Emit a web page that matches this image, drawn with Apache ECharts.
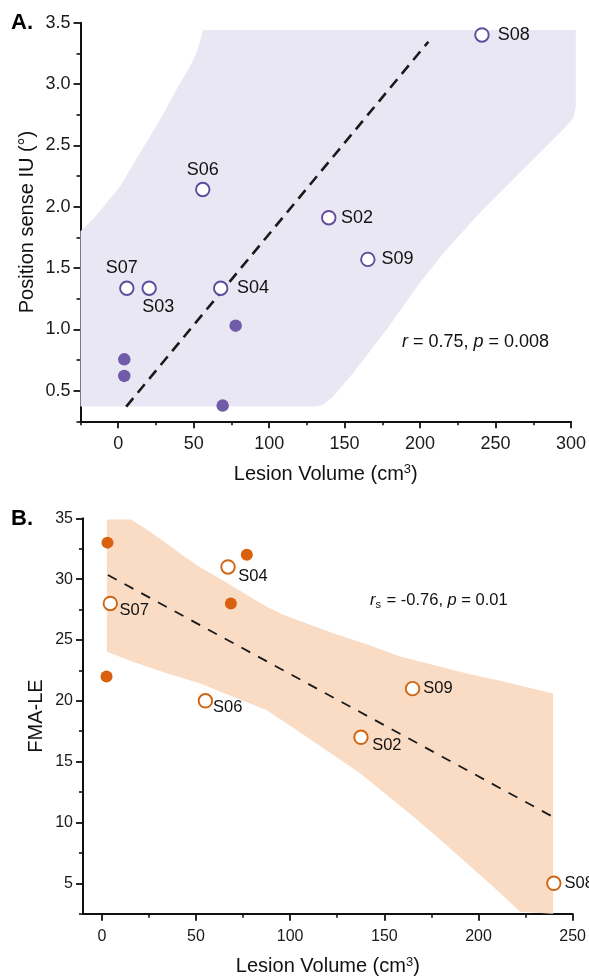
<!DOCTYPE html>
<html><head><meta charset="utf-8">
<script src="https://cdn.jsdelivr.net/npm/echarts/dist/echarts.min.js"></script>
<style>html,body{margin:0;padding:0;background:#fff}#c{width:589px;height:980px}</style>
</head><body><div id="c"></div>
<script>
// ---------- Panel A ----------
const aOpenNames = ['S08', 'S06', 'S02', 'S09', 'S07', 'S03', 'S04'];
const aOpenX = [241, 56, 139.5, 165.4, 5.7, 20.5, 67.9];
const aOpenY = [3.40, 2.14, 1.91, 1.57, 1.335, 1.335, 1.335];
const aFilledX = [77.8, 4, 4, 69.2];
const aFilledY = [1.03, 0.755, 0.62, 0.378];
const aFitX = [5.3, 205.5];
const aFitY = [0.37, 3.345];
const aBandX = [-25, -16.5, 1.1, 14.3, 27.6, 39.7, 47, 51.7, 54.5, 56.2, 303.2, 303.2, 301.5, 296.6, 265.7, 239.3, 217.2, 199.6, 177.6, 155.5, 142.3, 135.7, 130, -25];
const aBandY = [1.80, 1.90, 2.163, 2.435, 2.707, 2.98, 3.13, 3.25, 3.36, 3.44, 3.44, 2.815, 2.72, 2.652, 2.272, 1.946, 1.647, 1.376, 0.995, 0.642, 0.451, 0.384, 0.37, 0.37];
const aXTicks = [0, 50, 100, 150, 200, 250, 300];
const aXMinor = [-25, 25, 75, 125, 175, 225, 275];
const aYTicks = [0.5, 1.0, 1.5, 2.0, 2.5, 3.0, 3.5];
const aYMinor = [0.25, 0.75, 1.25, 1.75, 2.25, 2.75, 3.25];
const aStat = '{i|r} = 0.75, {i|p} = 0.008';

// ---------- Panel B ----------
const bOpenNames = ['S07', 'S04', 'S06', 'S09', 'S02', 'S08'];
const bOpenX = [4.5, 67, 55, 165, 137.6, 240];
const bOpenY = [28, 31, 20, 21, 17, 5];
const bFilledX = [3, 2.5, 77, 68.5];
const bFilledY = [33, 22, 32, 28];
const bFitX = [3.2, 239.9];
const bFitY = [30.34, 10.43];
const bUpperX = [2.7, 15.6, 25, 34.3, 43, 52.0, 61, 69.7, 78.5, 87.4, 96, 105.2, 122.9, 140.6, 158.4, 176.1, 193.8, 211.5, 239.6];
const bUpperY = [34.9, 34.9, 33.95, 32.95, 31.95, 31.0, 30.2, 29.4, 28.55, 27.75, 27.1, 26.55, 25.55, 24.65, 23.65, 22.95, 22.25, 21.65, 20.6];
const bLowerX = [2.7, 16.5, 34.3, 52.0, 69.7, 87.4, 103.4, 120, 137.1, 151, 165.4, 179.6, 193.8, 208, 222.2, 239.6];
const bLowerY = [24.04, 23.2, 22.26, 21.44, 20.34, 19.25, 17.6, 15.85, 14.05, 12.3, 10.48, 8.6, 6.65, 4.7, 2.67, 0.3];
const bXTicks = [0, 50, 100, 150, 200, 250];
const bXMinor = [25, 75, 125, 175, 225];
const bYTicks = [5, 10, 15, 20, 25, 30, 35];
const bYMinor = [2.5, 7.5, 12.5, 17.5, 22.5, 27.5, 32.5];
const bStat = '{i|r}{s|s} = -0.76, {i|p} = 0.01';

// ---------- styles ----------
const FONT = 'Liberation Sans, Arial, sans-serif';
const aLabel = {
  S08: {position: 'right', distance: 8},
  S06: {position: 'top', distance: 3},
  S02: {position: 'right', distance: 4.5},
  S09: {position: 'right', distance: 6},
  S07: {position: 'top', distance: 3.5, offset: [-5, 0]},
  S03: {position: 'bottom', distance: 2.5, offset: [9, 0]},
  S04: {position: 'right', distance: 8.5}
};
const bLabel = {
  S07: {position: 'right', distance: 1.5, offset: [0, 7]},
  S04: {position: 'right', distance: 2.5, offset: [0, 9]},
  S06: {position: 'right', distance: 0, offset: [0, 7]},
  S09: {position: 'right', distance: 3},
  S02: {position: 'right', distance: 3.5, offset: [0, 8]},
  S08: {position: 'right', distance: 3}
};
const nameRich = {sup: {fontSize: 13, color: '#111', fontFamily: FONT, verticalAlign: 'top', lineHeight: 13, padding: [0, 0, 8, 0]}};

function majorAxis(grid, min, max, ticks, fs, name, gap, pos, fmt, margin) {
  return {
    type: 'value', gridIndex: grid, min: min, max: max, position: pos,
    name: name, nameLocation: 'middle', nameGap: gap, nameMoveOverlap: false,
    nameTextStyle: {fontSize: 20, color: '#111', fontFamily: FONT, lineHeight: 22, rich: nameRich},
    axisLine: {show: true, onZero: false, lineStyle: {color: '#111', width: 2}},
    axisTick: {show: true, customValues: ticks, length: 7, lineStyle: {color: '#111', width: 1.8}},
    axisLabel: {show: true, customValues: ticks, fontSize: fs, color: '#1a1a1a', margin: margin, fontFamily: FONT,
      formatter: fmt || (v => String(v))},
    splitLine: {show: false}
  };
}
function minorAxis(grid, min, max, ticks, pos) {
  return {
    type: 'value', gridIndex: grid, min: min, max: max, position: pos,
    axisLine: {show: false, onZero: false},
    axisTick: {show: true, customValues: ticks, length: 4, lineStyle: {color: '#111', width: 1.6}},
    axisLabel: {show: false},
    splitLine: {show: false}
  };
}
function scatterItems(names, xs, ys, lab) {
  return xs.map((x, i) => ({value: [x, ys[i]], name: names[i], label: Object.assign({}, lab[names[i]])}));
}
function pairs(xs, ys) { return xs.map((x, i) => [x, ys[i]]); }

const chart = echarts.init(document.getElementById('c'), null, {renderer: 'canvas'});
const option = {
  animation: false,
  backgroundColor: '#fff',
  textStyle: {fontFamily: FONT},
  title: [
    {text: 'A.', left: 11, top: 10.5, padding: 0, textStyle: {fontSize: 22, fontWeight: 'bold', color: '#000', fontFamily: FONT, lineHeight: 24}},
    {text: 'B.', left: 11, top: 507, padding: 0, textStyle: {fontSize: 22, fontWeight: 'bold', color: '#000', fontFamily: FONT, lineHeight: 24}},
    {text: aStat, left: 402, top: 332, padding: 0, textStyle: {fontSize: 18, fontWeight: 'normal', color: '#111', fontFamily: FONT, lineHeight: 20,
      rich: {i: {fontStyle: 'italic', fontSize: 18, color: '#111', fontFamily: FONT, lineHeight: 20}}}},
    {text: bStat, left: 370, top: 590, padding: 0, textStyle: {fontSize: 16.5, fontWeight: 'normal', color: '#111', fontFamily: FONT, lineHeight: 20,
      rich: {i: {fontStyle: 'italic', fontSize: 16.5, color: '#111', fontFamily: FONT, lineHeight: 20},
             s: {fontSize: 11, color: '#111', fontFamily: FONT, lineHeight: 11, verticalAlign: 'bottom', padding: [9, 1, 0, 0]}}}}
  ],
  grid: [
    {left: 80.5, top: 22.7, width: 491.8, height: 398.6},
    {left: 83, top: 518.3, width: 489.7, height: 395.4}
  ],
  xAxis: [
    majorAxis(0, -25, 300, aXTicks, 18, 'Lesion Volume (cm{sup|3})', 42, 'bottom', null, 14),
    minorAxis(0, -25, 300, aXMinor, 'bottom'),
    majorAxis(1, -10, 250, bXTicks, 16, 'Lesion Volume (cm{sup|3})', 42, 'bottom', null, 15),
    minorAxis(1, -10, 250, bXMinor, 'bottom')
  ],
  yAxis: [
    majorAxis(0, 0.25, 3.5, aYTicks, 18, 'Position sense IU (°)', 42, 'left', v => v.toFixed(1), 10),
    minorAxis(0, 0.25, 3.5, aYMinor, 'left'),
    majorAxis(1, 2.5, 35, bYTicks, 16, 'FMA-LE', 36, 'left', null, 10),
    minorAxis(1, 2.5, 35, bYMinor, 'left')
  ],
  series: [
    {
      type: 'custom', xAxisIndex: 0, yAxisIndex: 0, z: 1, silent: true, clip: false,
      data: [[aBandX[0], aBandY[0]]],
      renderItem: function (params, api) {
        const pts = aBandX.map((x, i) => api.coord([x, aBandY[i]]));
        return {type: 'polygon', shape: {points: pts}, style: {fill: '#e9e7f3', stroke: null}};
      }
    },
    {
      type: 'line', xAxisIndex: 0, yAxisIndex: 0, z: 3, symbol: 'none', silent: true,
      data: pairs(aFitX, aFitY),
      lineStyle: {color: '#1a1a1a', width: 2.6, type: [11, 7]}
    },
    {
      type: 'scatter', xAxisIndex: 0, yAxisIndex: 0, z: 5, symbol: 'circle', symbolSize: 13.5,
      itemStyle: {color: '#fff', borderColor: '#5f4c9c', borderWidth: 1.9, opacity: 1},
      label: {show: true, formatter: '{b}', fontSize: 18, color: '#111', fontFamily: FONT},
      data: scatterItems(aOpenNames, aOpenX, aOpenY, aLabel)
    },
    {
      type: 'scatter', xAxisIndex: 0, yAxisIndex: 0, z: 5, symbol: 'circle', symbolSize: 12.5,
      itemStyle: {color: '#6f5ba7', opacity: 1},
      data: pairs(aFilledX, aFilledY)
    },
    {
      type: 'custom', xAxisIndex: 2, yAxisIndex: 2, z: 1, silent: true,
      data: [[bUpperX[0], bUpperY[0]]],
      renderItem: function (params, api) {
        const up = bUpperX.map((x, i) => api.coord([x, bUpperY[i]]));
        const lo = bLowerX.map((x, i) => api.coord([x, bLowerY[i]])).reverse();
        const cs = params.coordSys;
        const pts = echarts.graphic.clipPointsByRect(up.concat(lo), {x: cs.x, y: cs.y, width: cs.width, height: cs.height});
        return {type: 'polygon', shape: {points: pts}, style: {fill: '#fadcc5', stroke: null}};
      }
    },
    {
      type: 'line', xAxisIndex: 2, yAxisIndex: 2, z: 3, symbol: 'none', silent: true,
      data: pairs(bFitX, bFitY),
      lineStyle: {color: '#1a1a1a', width: 1.8, type: [10, 9]}
    },
    {
      type: 'scatter', xAxisIndex: 2, yAxisIndex: 2, z: 5, symbol: 'circle', symbolSize: 13.5,
      itemStyle: {color: '#fff', borderColor: '#cf6614', borderWidth: 1.9, opacity: 1},
      label: {show: true, formatter: '{b}', fontSize: 16.5, color: '#111', fontFamily: FONT},
      data: scatterItems(bOpenNames, bOpenX, bOpenY, bLabel)
    },
    {
      type: 'scatter', xAxisIndex: 2, yAxisIndex: 2, z: 5, symbol: 'circle', symbolSize: 12,
      itemStyle: {color: '#d9600e', opacity: 1},
      data: pairs(bFilledX, bFilledY)
    }
  ]
};
chart.setOption(option);
</script>
</body></html>
